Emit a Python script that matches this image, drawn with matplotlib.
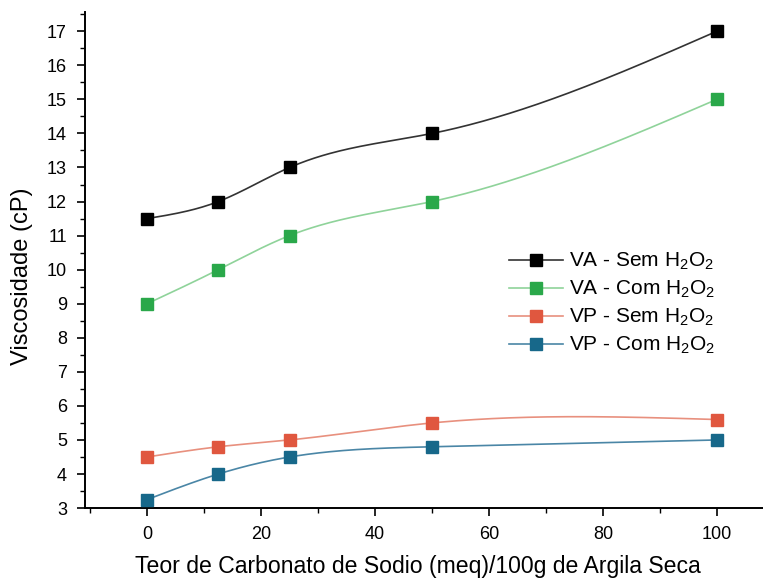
import numpy as np
import matplotlib
matplotlib.use("Agg")
import matplotlib.pyplot as plt
from matplotlib.ticker import MultipleLocator

plt.rcParams['font.family'] = ['Liberation Sans', 'DejaVu Sans']
plt.rcParams['mathtext.fontset'] = 'custom'
plt.rcParams['mathtext.rm'] = 'Liberation Sans'
plt.rcParams['mathtext.it'] = 'Liberation Sans'

x = [0, 12.5, 25, 50, 100]
va_sem = [11.5, 12.0, 13.0, 14.0, 17.0]
va_com = [9.0, 10.0, 11.0, 12.0, 15.0]
vp_sem = [4.5, 4.8, 5.0, 5.5, 5.6]
vp_com = [3.25, 4.0, 4.5, 4.8, 5.0]

labels = [r'VA - Sem H$_2$O$_2$', r'VA - Com H$_2$O$_2$',
          r'VP - Sem H$_2$O$_2$', r'VP - Com H$_2$O$_2$']
marker_colors = ['#000000', '#2aa84a', '#e0573f', '#17688a']
line_colors = ['#333333', '#8fd39a', '#e8907e', '#4a86a6']


def natural_spline(xs, ys, n=300):
    xs = np.asarray(xs, float)
    ys = np.asarray(ys, float)
    m = len(xs)
    h = np.diff(xs)
    A = np.zeros((m, m))
    b = np.zeros(m)
    A[0, 0] = 1
    A[-1, -1] = 1
    for i in range(1, m - 1):
        A[i, i - 1] = h[i - 1]
        A[i, i] = 2 * (h[i - 1] + h[i])
        A[i, i + 1] = h[i]
        b[i] = 6 * ((ys[i + 1] - ys[i]) / h[i] - (ys[i] - ys[i - 1]) / h[i - 1])
    M = np.linalg.solve(A, b)
    xx = np.linspace(xs[0], xs[-1], n)
    yy = np.empty_like(xx)
    for k, t in enumerate(xx):
        i = min(np.searchsorted(xs, t, side='right') - 1, m - 2)
        hi = h[i]
        a = xs[i + 1] - t
        c = t - xs[i]
        yy[k] = (M[i] * a ** 3 / (6 * hi) + M[i + 1] * c ** 3 / (6 * hi)
                 + (ys[i] / hi - M[i] * hi / 6) * a
                 + (ys[i + 1] / hi - M[i + 1] * hi / 6) * c)
    return xx, yy


fig = plt.figure(figsize=(7.63, 5.80), dpi=100)
ax = fig.add_axes([0.1114, 0.124, 0.8886, 0.855])

for ys, lab, mc, lc in zip([va_sem, va_com, vp_sem, vp_com], labels, marker_colors, line_colors):
    xx, yy = natural_spline(x, ys)
    ax.plot(xx, yy, color=lc, lw=1.2, zorder=2)
    ax.plot(x, ys, linestyle='none', marker='s', ms=8.5, color=mc, zorder=3)
    ax.plot([], [], color=lc, lw=1.2, marker='s', ms=8.5, mfc=mc, mec=mc, label=lab)

ax.set_xlim(-10.9, 108.1)
ax.set_ylim(3, 17.56)
ax.xaxis.set_major_locator(MultipleLocator(20))
ax.xaxis.set_minor_locator(MultipleLocator(10))
ax.yaxis.set_major_locator(MultipleLocator(1))
ax.yaxis.set_minor_locator(MultipleLocator(0.5))
ax.tick_params(which='major', direction='out', length=6, width=1.2, labelsize=13)
ax.tick_params(axis='x', which='major', pad=7)
ax.tick_params(axis='y', which='major', pad=7)
ax.tick_params(which='minor', direction='out', length=3.5, width=1.0)
ax.spines['top'].set_visible(False)
ax.spines['right'].set_visible(False)
ax.spines['left'].set_linewidth(1.4)
ax.spines['bottom'].set_linewidth(1.4)

ax.set_xlabel('Teor de Carbonato de Sodio (meq)/100g de Argila Seca', fontsize=16.6)
ax.xaxis.set_label_coords((418 - 85) / 678, -0.095)
ax.set_ylabel('Viscosidade (cP)', fontsize=17)
ax.yaxis.set_label_coords(-0.077, (508 - 276) / 496)

leg = ax.legend(loc='upper left', bbox_to_anchor=(0.597, 0.556), frameon=False,
                fontsize=15, handlelength=2.6, handletextpad=0.3, labelspacing=0.32)

fig.savefig('out.png', dpi=100)
